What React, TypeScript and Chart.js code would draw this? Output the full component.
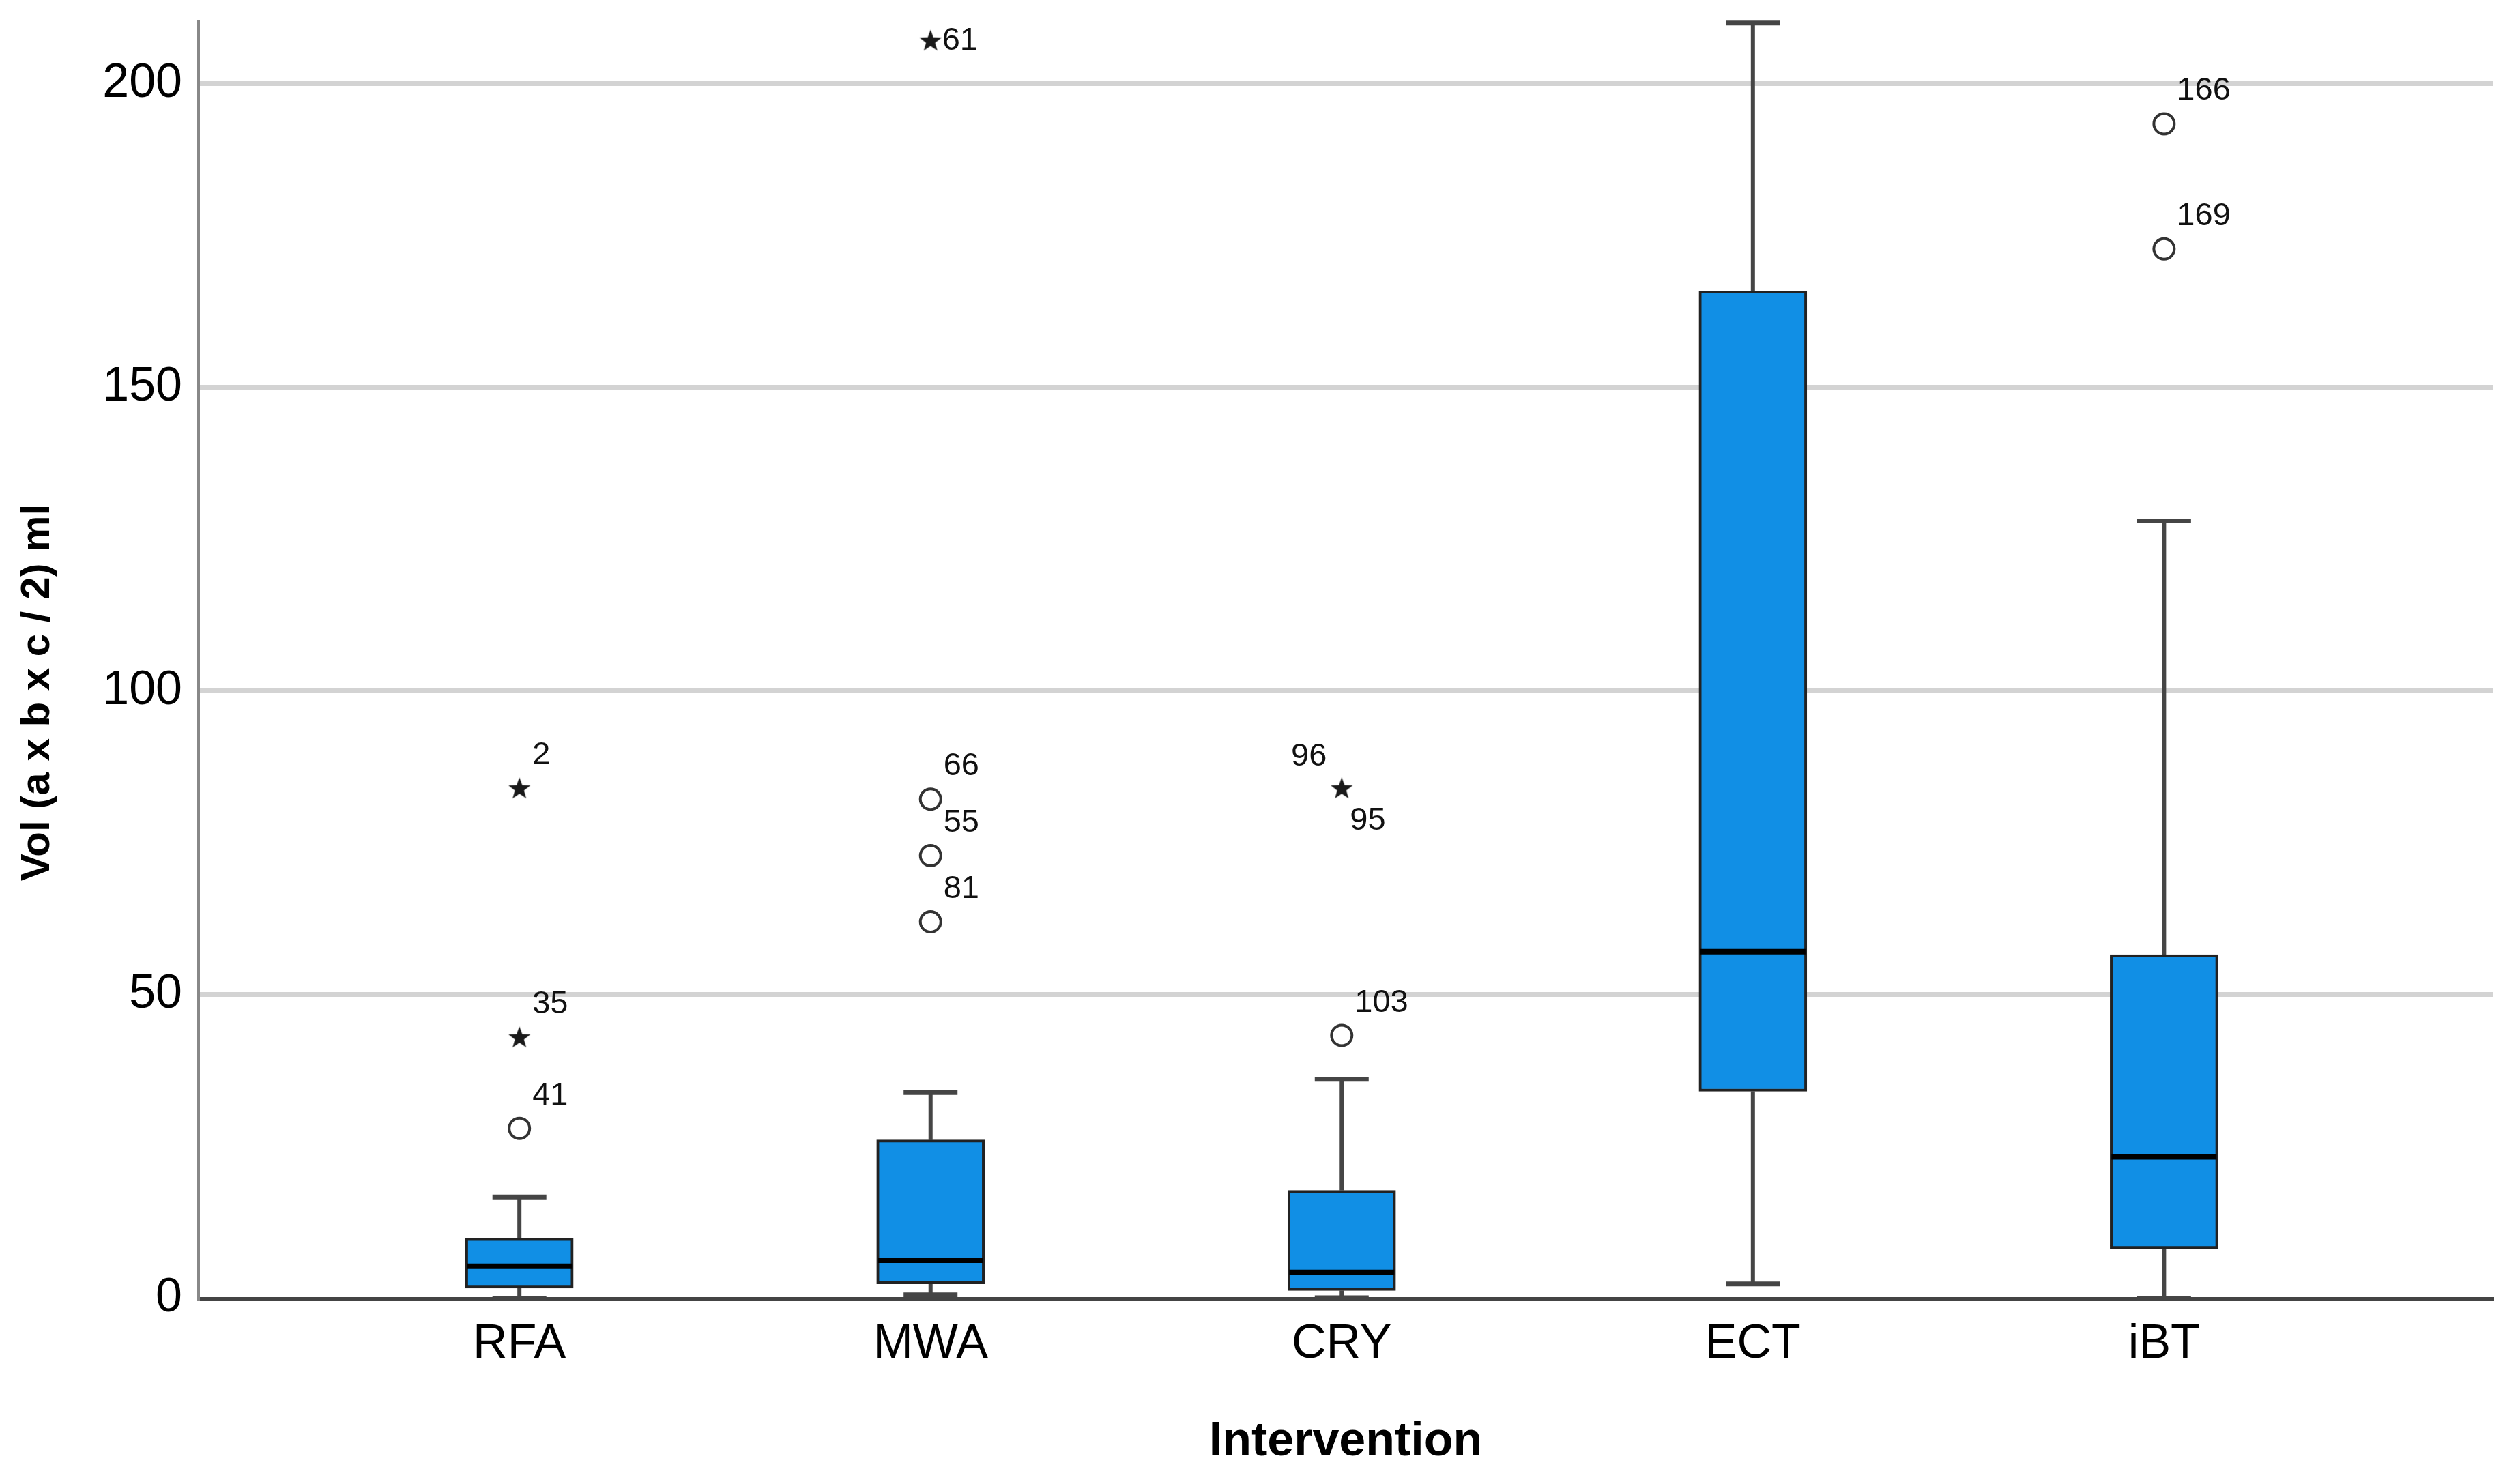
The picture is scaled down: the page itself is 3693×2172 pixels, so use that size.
import React, { useEffect, useRef } from "react";
import { Chart, registerables } from "chart.js";

Chart.register(...registerables);

// ---------- data ----------
const categories = ["RFA", "MWA", "CRY", "ECT", "iBT"];
const whiskerLow = [0.0, 0.6, 0.1, 2.4, 0.0];
const q1 = [1.7, 2.4, 1.3, 34.1, 8.2];
const medians = [5.3, 6.3, 4.3, 57.1, 23.3];
const q3 = [9.9, 26.1, 17.8, 165.9, 56.6];
const whiskerHigh = [16.7, 33.9, 36.1, 210.0, 128.0];

const circleCat = [0, 1, 1, 1, 2, 4, 4];
const circleVal = [28.0, 82.2, 72.9, 62.0, 43.3, 193.4, 172.8];
const circleIds = ["41", "66", "55", "81", "103", "166", "169"];
const circleLabelPos = ["ur", "ur", "ur", "ur", "ur", "ur", "ur"];

const starCat = [0, 0, 1, 2];
const starVal = [84.0, 43.0, 207.1, 84.0];
const starIds = [["2"], ["35"], ["61"], ["96", "95"]];
const starLabelPos = [["ur"], ["ur"], ["r"], ["ul", "dr"]];

const yTicks = [0, 50, 100, 150, 200];
const xTitle = "Intervention";
const yTitle = "Vol (a x b x c / 2) ml";

// ---------- styles ----------
const FAMILY = "'Liberation Sans', Arial, sans-serif";
const BOX_FILL = "#118FE5";
const BOX_EDGE = "#222222";
const BOX_W = 158;

function makeStar(): HTMLCanvasElement {
  const c = document.createElement("canvas");
  c.width = 36;
  c.height = 36;
  const g = c.getContext("2d")!;
  g.fillStyle = "#1a1a1a";
  g.beginPath();
  for (let i = 0; i < 10; i++) {
    const r = i % 2 === 0 ? 17 : 7;
    const a = -Math.PI / 2 + (i * Math.PI) / 5;
    const px = 18 + r * Math.cos(a);
    const py = 19 + r * Math.sin(a);
    if (i === 0) g.moveTo(px, py);
    else g.lineTo(px, py);
  }
  g.closePath();
  g.fill();
  return c;
}

const boxParts = {
  id: "boxParts",
  beforeDatasetsDraw(chart: any) {
    const { ctx, scales } = chart;
    const x = scales.x;
    const y = scales.y;
    ctx.save();
    ctx.strokeStyle = "#454545";
    ctx.lineCap = "butt";
    categories.forEach((_, i) => {
      const cx = x.getPixelForValue(i);
      const half = BOX_W / 4;
      const yHi = y.getPixelForValue(whiskerHigh[i]);
      const yLo = y.getPixelForValue(whiskerLow[i]);
      ctx.lineWidth = 6;
      ctx.beginPath();
      ctx.moveTo(cx, y.getPixelForValue(q3[i]));
      ctx.lineTo(cx, yHi);
      ctx.moveTo(cx, y.getPixelForValue(q1[i]));
      ctx.lineTo(cx, yLo);
      ctx.stroke();
      ctx.lineWidth = 7;
      ctx.beginPath();
      ctx.moveTo(cx - half, yHi);
      ctx.lineTo(cx + half, yHi);
      ctx.moveTo(cx - half, yLo);
      ctx.lineTo(cx + half, yLo);
      ctx.stroke();
    });
    ctx.restore();
  },
  afterDatasetsDraw(chart: any) {
    const { ctx, scales } = chart;
    const x = scales.x;
    const y = scales.y;
    ctx.save();
    // medians
    ctx.strokeStyle = "#000000";
    ctx.lineWidth = 8;
    categories.forEach((_, i) => {
      const cx = x.getPixelForValue(i);
      const ym = y.getPixelForValue(medians[i]);
      ctx.beginPath();
      ctx.moveTo(cx - BOX_W / 2 + 2, ym);
      ctx.lineTo(cx + BOX_W / 2 - 2, ym);
      ctx.stroke();
    });
    // outlier labels
    ctx.fillStyle = "#111111";
    ctx.font = `47px ${FAMILY}`;
    const put = (cat: number, val: number, text: string, pos: string) => {
      const px = x.getPixelForValue(cat);
      const py = y.getPixelForValue(val);
      ctx.textBaseline = "middle";
      if (pos === "ur") {
        ctx.textAlign = "left";
        ctx.fillText(text, px + 19, py - 48);
      } else if (pos === "r") {
        ctx.textAlign = "left";
        ctx.fillText(text, px + 17, py + 1);
      } else if (pos === "ul") {
        ctx.textAlign = "right";
        ctx.fillText(text, px - 22, py - 46);
      } else if (pos === "dr") {
        ctx.textAlign = "left";
        ctx.fillText(text, px + 12, py + 48);
      }
    };
    circleIds.forEach((t, i) => put(circleCat[i], circleVal[i], t, circleLabelPos[i]));
    starIds.forEach((ids, i) =>
      ids.forEach((t, j) => put(starCat[i], starVal[i], t, starLabelPos[i][j]))
    );
    ctx.restore();
  },
  afterDraw(chart: any) {
    const { ctx } = chart;
    ctx.save();
    ctx.fillStyle = "#000000";
    ctx.font = `bold 60px ${FAMILY}`;
    ctx.textAlign = "center";
    ctx.textBaseline = "middle";
    ctx.translate(55, 1015);
    ctx.rotate(-Math.PI / 2);
    ctx.fillText(yTitle, 0, 0);
    ctx.restore();
  },
};

export default function App() {
  const ref = useRef<HTMLCanvasElement | null>(null);

  useEffect(() => {
    if (!ref.current) return;
    Chart.defaults.font.family = FAMILY;
    const star = makeStar();
    const chart = new Chart(ref.current, {
      type: "bar",
      data: {
        datasets: [
          {
            type: "bar",
            data: categories.map((_, i) => ({ x: i, y: [q1[i], q3[i]] })) as any,
            backgroundColor: BOX_FILL,
            borderColor: BOX_EDGE,
            borderWidth: 4,
            borderSkipped: false,
            barThickness: BOX_W,
          } as any,
          {
            type: "scatter",
            data: circleVal.map((v, i) => ({ x: circleCat[i], y: v })),
            pointStyle: "circle",
            pointRadius: 15,
            pointBorderWidth: 4,
            pointBorderColor: "#333333",
            pointBackgroundColor: "rgba(0,0,0,0)",
          } as any,
          {
            type: "scatter",
            data: starVal.map((v, i) => ({ x: starCat[i], y: v })),
            pointStyle: star,
            pointRadius: 17,
          } as any,
        ],
      },
      options: {
        animation: false,
        responsive: false,
        devicePixelRatio: 1,
        layout: { padding: { top: 31, right: 39, left: 0, bottom: 0 } },
        plugins: { legend: { display: false }, tooltip: { enabled: false } },
        scales: {
          x: {
            type: "linear",
            offset: false,
            min: -0.782,
            max: 4.801,
            grid: { display: false, drawTicks: false },
            border: { display: true, color: "#444444", width: 5 },
            afterBuildTicks: (s: any) => {
              s.ticks = categories.map((_, i) => ({ value: i }));
            },
            ticks: {
              callback: (_v: any, idx: number) => categories[idx] ?? "",
              font: { size: 70, lineHeight: 1.2 },
              color: "#000000",
              padding: 26,
              autoSkip: false,
              maxRotation: 0,
              minRotation: 0,
            },
            title: {
              display: true,
              text: xTitle,
              color: "#000000",
              font: { size: 70, weight: "bold", lineHeight: 1.2 },
              padding: { top: 0, bottom: 16 },
            },
            afterFit: (s: any) => {
              s.height = 269;
              s.paddingLeft = 0;
              s.paddingRight = 0;
            },
          },
          y: {
            type: "linear",
            min: 0,
            max: 210.3,
            afterBuildTicks: (s: any) => {
              s.ticks = yTicks.map((v) => ({ value: v }));
            },
            grid: {
              color: (c: any) => (c.tick && c.tick.value === 0 ? "rgba(0,0,0,0)" : "#d3d3d3"),
              lineWidth: 7,
              drawTicks: false,
            },
            border: { display: true, color: "#888888", width: 5 },
            ticks: {
              font: { size: 70, lineHeight: 1.2 },
              color: "#000000",
              padding: 23,
              includeBounds: false,
            },
            afterFit: (s: any) => {
              s.width = 290;
              s.paddingTop = 0;
              s.paddingBottom = 0;
            },
          },
        },
      } as any,
      plugins: [boxParts as any],
    });
    return () => chart.destroy();
  }, []);

  return (
    <div style={{ position: "fixed", left: 0, top: 0, width: 3693, height: 2172, background: "#ffffff" }}>
      <canvas ref={ref} width={3693} height={2172} style={{ display: "block", width: 3693, height: 2172 }} />
    </div>
  );
}
